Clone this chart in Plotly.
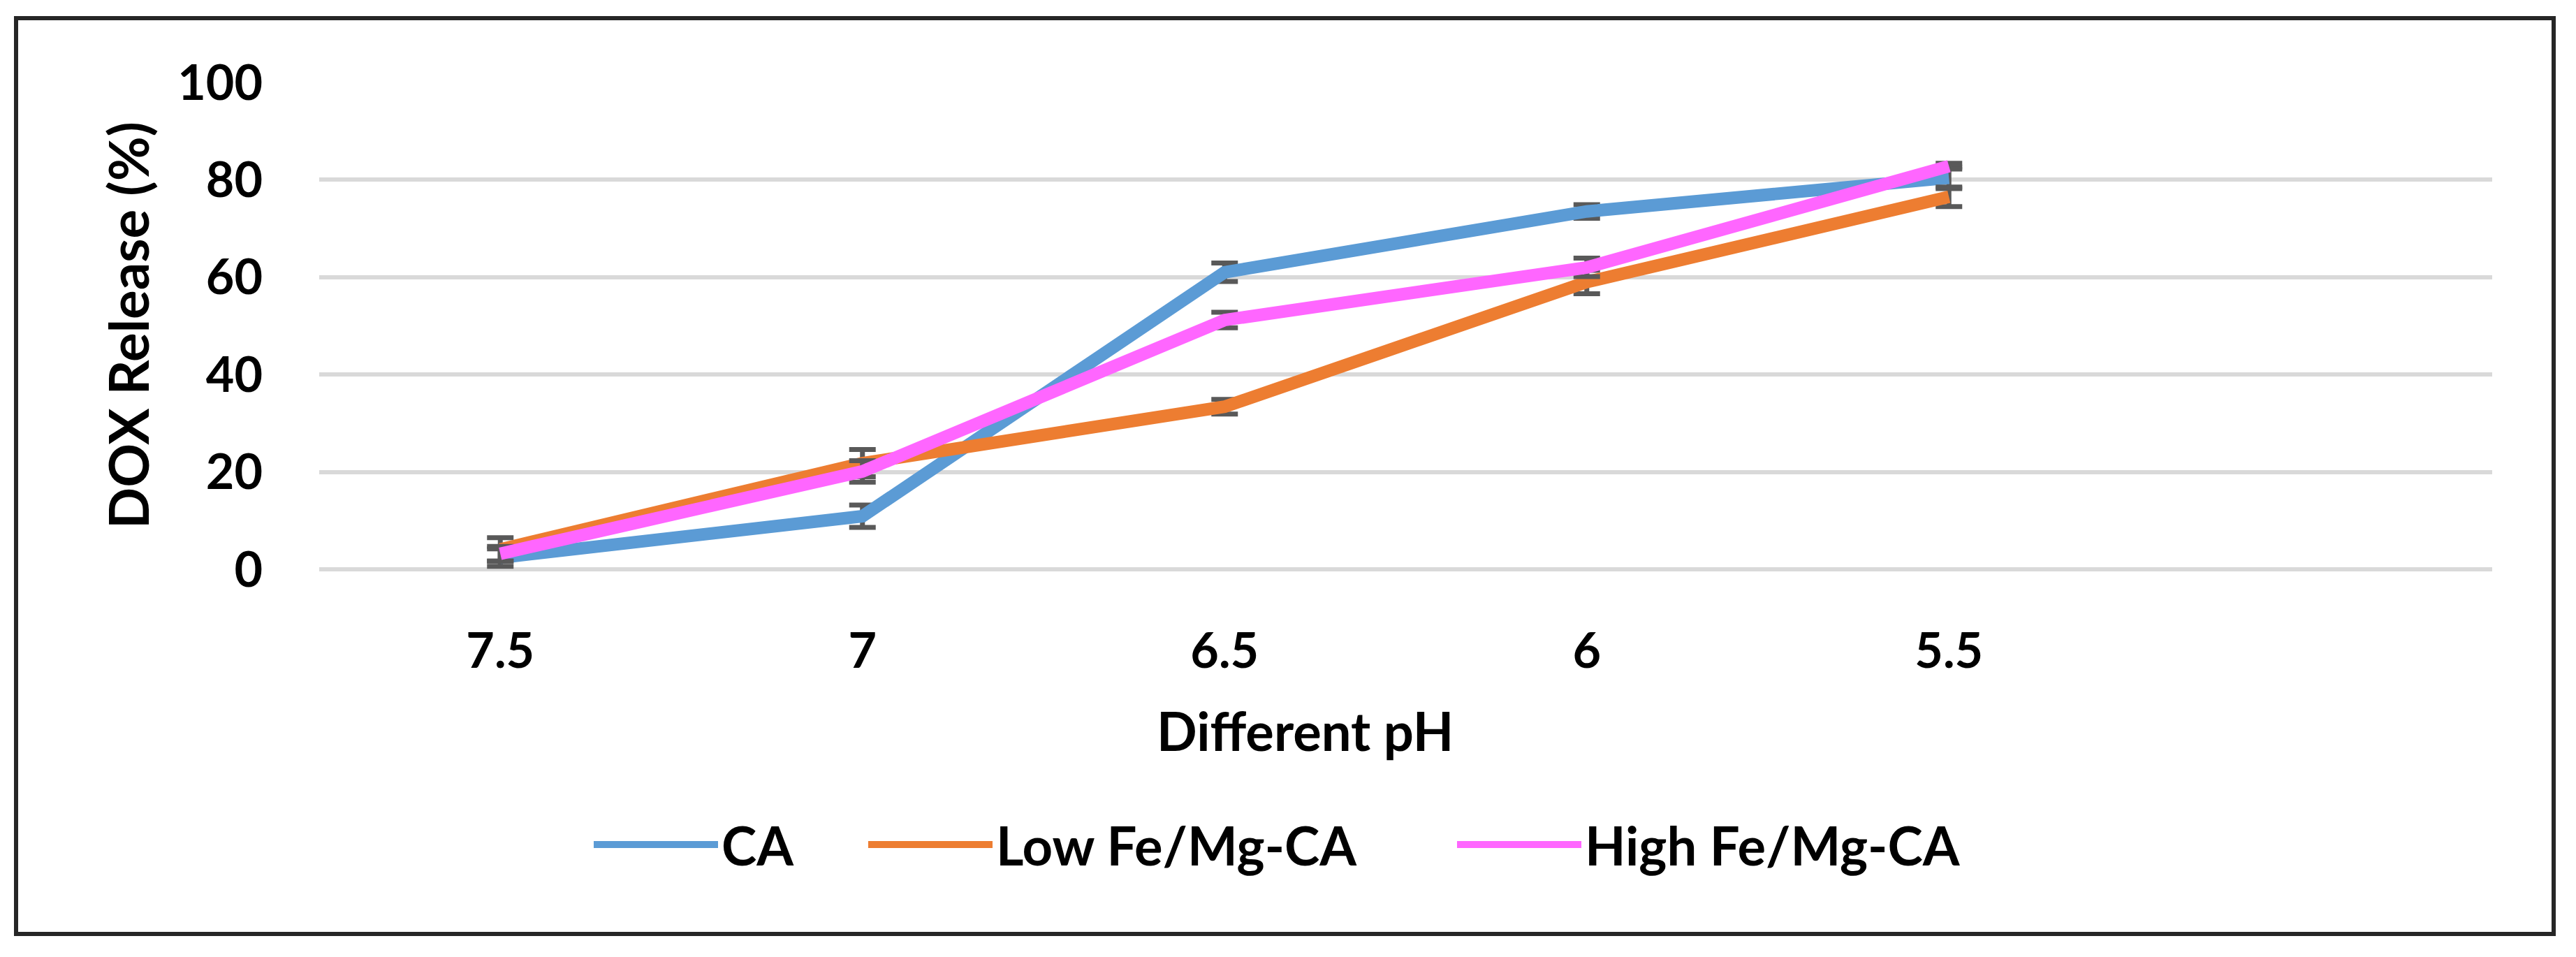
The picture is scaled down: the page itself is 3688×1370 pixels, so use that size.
import plotly.graph_objects as go

# ---- data ----
ph_labels = ["7.5", "7", "6.5", "6", "5.5"]
series_names = ["CA", "Low Fe/Mg-CA", "High Fe/Mg-CA"]
ca_values = [2.4, 10.9, 61.0, 73.5, 80.4]
ca_errors = [1.8, 2.3, 1.9, 1.4, 2.2]
low_values = [4.1, 21.8, 33.4, 59.0, 76.5]
low_errors = [2.4, 2.8, 1.5, 2.4, 2.0]
high_values = [3.2, 20.1, 51.2, 62.0, 82.8]
high_errors = [1.5, 2.2, 1.6, 1.9, 0.6]
y_ticks = [0, 20, 40, 60, 80, 100]

colors = ["#5B9BD5", "#ED7D31", "#FF66FF"]
values = [ca_values, low_values, high_values]
errors = [ca_errors, low_errors, high_errors]

# ---- layout geometry (pixels) ----
W, H = 3688, 1370
PL, PR, PT, PB = 457, 3568, 118, 815

def px_x(p):
    return (p - PL) / (PR - PL)

def px_y(p):
    return (PB - p) / (PB - PT)

FONT = "Lato"
legend_ids = ["legend", "legend2", "legend3"]
legend_left_px = [845, 1238, 2081]

fig = go.Figure()
for name, vals, errs, col, lg in zip(series_names, values, errors, colors, legend_ids):
    fig.add_trace(go.Scatter(
        x=ph_labels, y=vals, name=name, mode="lines", legend=lg,
        line=dict(color=col, width=18),
        error_y=dict(type="data", array=errs, visible=True,
                     color="#595959", thickness=7, width=19),
    ))

legend_common = dict(orientation="h", xanchor="left", yanchor="middle",
                     y=px_y(1209), itemwidth=178, bgcolor="rgba(0,0,0,0)",
                     borderwidth=0,
                     font=dict(family=FONT, size=76, weight="bold", color="black"))

fig.update_layout(
    width=W, height=H,
    margin=dict(l=PL, r=W - PR, t=PT, b=H - PB, autoexpand=False),
    paper_bgcolor="white", plot_bgcolor="white",
    font=dict(family=FONT, color="black"),
    showlegend=True,
    legend=dict(x=px_x(legend_left_px[0]), **legend_common),
    legend2=dict(x=px_x(legend_left_px[1]), **legend_common),
    legend3=dict(x=px_x(legend_left_px[2]), **legend_common),
    xaxis=dict(type="category", categoryorder="array", categoryarray=ph_labels,
               range=[-0.5, 5.5], showgrid=False, zeroline=False, showline=False,
               ticks="", ticklabelstandoff=70,
               tickfont=dict(family=FONT, size=70, weight="bold", color="black")),
    yaxis=dict(range=[0, 100], tickvals=y_ticks, showgrid=True,
               gridcolor="#D9D9D9", gridwidth=6, zeroline=True,
               zerolinecolor="#D9D9D9", zerolinewidth=6, showline=False,
               ticks="", ticklabelstandoff=80,
               tickfont=dict(family=FONT, size=70, weight="bold", color="black")),
    annotations=[
        dict(text="DOX Release (%)", xref="paper", yref="paper",
             x=px_x(183), y=px_y(466), xanchor="center", yanchor="middle",
             textangle=-90, showarrow=False,
             font=dict(family=FONT, size=78, weight="bold", color="black")),
        dict(text="Different pH", xref="paper", yref="paper",
             x=px_x(1868), y=px_y(1045), xanchor="center", yanchor="middle",
             showarrow=False,
             font=dict(family=FONT, size=76, weight="bold", color="black")),
    ],
    shapes=[
        dict(type="rect", xref="paper", yref="paper",
             x0=px_x(23), x1=px_x(3656), y0=px_y(1337), y1=px_y(26),
             line=dict(color="#262626", width=6), fillcolor="rgba(0,0,0,0)",
             layer="below"),
    ],
)

fig.write_html("out.html", config={"displayModeBar": False},
               post_script="document.body.style.margin='0';")
